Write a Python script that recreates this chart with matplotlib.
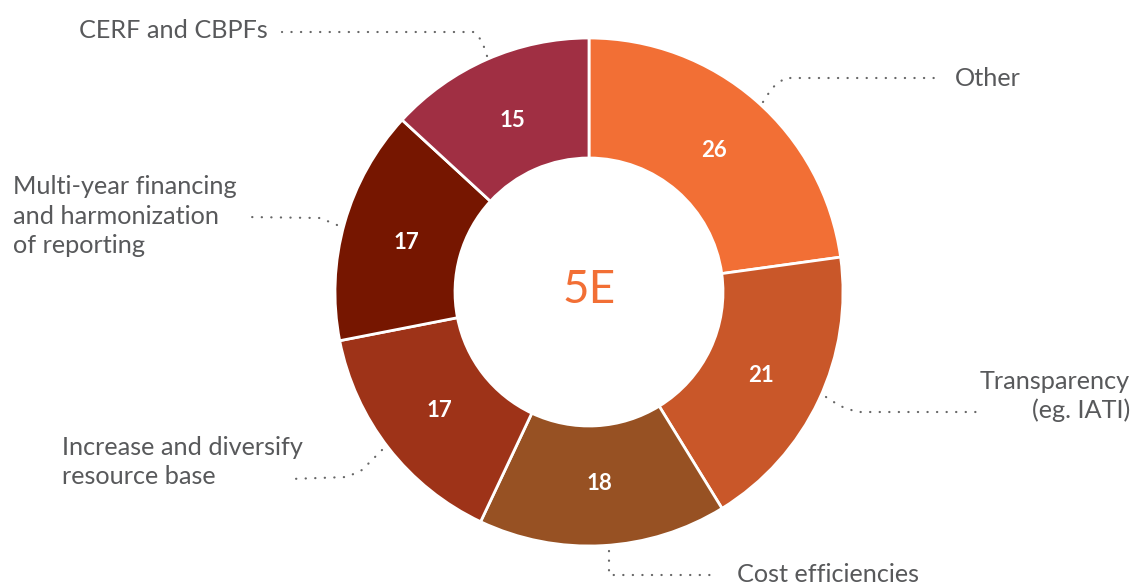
import matplotlib
matplotlib.use("Agg")
import matplotlib.pyplot as plt
import numpy as np

categories = ["Other", "Transparency\n(eg. IATI)", "Cost efficiencies",
              "Increase and diversify\nresource base",
              "Multi-year financing\nand harmonization\nof reporting",
              "CERF and CBPFs"]
values = [26, 21, 18, 17, 17, 15]
colors = ["#F26F35", "#C95729", "#975123", "#9E3318", "#761600", "#A02F43"]
center_label = "5E"

W, H = 1134, 585
fig = plt.figure(figsize=(W / 100, H / 100), dpi=100)
ax = fig.add_axes([0, 0, 1, 1])
plt.rcParams['font.family'] = ['Lato', 'DejaVu Sans']

cx, cy = 589, H - 292
R, ring = 254, 120
wedges, _ = ax.pie(values, colors=colors, startangle=90, counterclock=False,
                   radius=R, center=(cx, cy),
                   wedgeprops=dict(width=ring, edgecolor="white", linewidth=2))
ax.set_xlim(0, W)
ax.set_ylim(0, H)
ax.set_aspect("equal")
ax.axis("off")

rmid = 190
for w, v in zip(wedges, values):
    a = np.deg2rad((w.theta1 + w.theta2) / 2)
    ax.text(cx + rmid * np.cos(a), cy + rmid * np.sin(a) - 2, str(v),
            color="white", fontsize=16, ha="center", va="center", fontweight="bold")

ax.text(cx, cy + 2, center_label, color="#F26F35", fontsize=33, ha="center", va="center")

tc = "#58595B"
fs = 18.2
lsp = 1.32
ls = dict(color="#666666", lw=1.6, linestyle=(0, (0.1, 4.2)), dash_capstyle="round")

def Y(py):
    return H - py

# leader lines (pixel layout positions)
leaders = [
    [(763, 102), (772, 88), (785, 78), (937, 78)],
    [(826, 397), (840, 406), (857, 412), (982, 412)],
    [(609, 551), (609, 575), (717, 575)],
    [(382, 450), (362, 470), (347, 477), (290, 479)],
    [(337, 225), (320, 218), (247, 217)],
    [(487, 56), (482, 41), (474, 32), (282, 32)],
]
for pts in leaders:
    xs = [p[0] for p in pts]
    ys = [Y(p[1]) for p in pts]
    ax.plot(xs, ys, **ls)

ax.text(955, Y(78), categories[0], color=tc, fontsize=fs, ha="left", va="center")
ax.text(1130, Y(396), categories[1], color=tc, fontsize=fs, ha="right", va="center",
        multialignment="right", linespacing=lsp)
ax.text(737, Y(575), categories[2], color=tc, fontsize=fs, ha="left", va="center")
ax.text(62, Y(462), categories[3], color=tc, fontsize=fs, ha="left", va="center",
        linespacing=lsp)
ax.text(13, Y(216), categories[4], color=tc, fontsize=fs, ha="left", va="center",
        linespacing=lsp)
ax.text(268, Y(30), categories[5], color=tc, fontsize=fs, ha="right", va="center")

fig.savefig("out.png", dpi=100)
